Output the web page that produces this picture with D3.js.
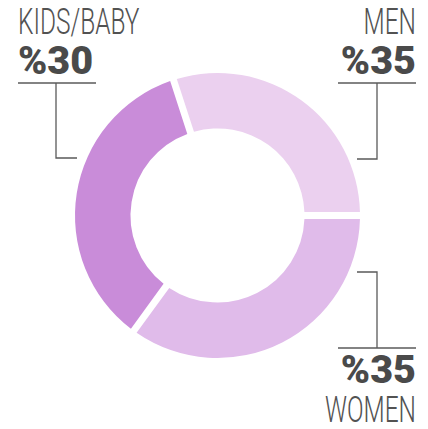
<!DOCTYPE html>
<html>
<head>
<meta charset="utf-8">
<script src="https://cdn.jsdelivr.net/npm/d3@7"></script>
<style>
  html, body { margin: 0; padding: 0; background: #fff; }
  svg { display: block; }
</style>
</head>
<body>
<div id="chart"></div>
<script>
// slice data (arc sizes as drawn) and the printed labels
const categories = ["MEN", "WOMEN", "KIDS/BABY"];
const sliceValues = [30, 35, 35];
const percentLabels = ["%35", "%35", "%30"];
const sliceColors = ["#ebd0ef", "#e0bbea", "#c98cd9"];

const width = 428, height = 429;
const cx = 217.5, cy = 215.5;
const outerR = 142.5, innerR = 87;
const gap = 7;
const startDeg = -18;

const svg = d3.select("#chart")
    .append("svg")
    .attr("width", width)
    .attr("height", height);

const pie = d3.pie()
    .sort(null)
    .value(d => d)
    .startAngle(startDeg * Math.PI / 180)
    .endAngle((startDeg + 360) * Math.PI / 180);

const arc = d3.arc()
    .innerRadius(innerR)
    .outerRadius(outerR)
    .padRadius(outerR)
    .padAngle(gap / outerR);

svg.append("g")
    .attr("transform", `translate(${cx},${cy})`)
    .selectAll("path")
    .data(pie(sliceValues))
    .enter()
    .append("path")
    .attr("d", arc)
    .attr("fill", (d, i) => sliceColors[i]);

/* labels + leader lines */
const lineColor = "#5a5a5a", textColor = "#525252";
const labels = [
    // name on top, percent below, rule under percent
    {i: 2, anchor: "start", x: 18, nameY: 34, pctY: 74, rule: [18, 96, 83],
     leader: [[56, 83], [56, 158], [77, 158]]},
    {i: 0, anchor: "end", x: 416, nameY: 34, pctY: 74, rule: [338, 416, 83],
     leader: [[377, 83], [377, 159], [357, 159]]},
    // percent first, name under it
    {i: 1, anchor: "end", x: 416, nameY: 422, pctY: 383, rule: [338, 416, 348],
     leader: [[377, 348], [377, 272], [357, 272]]}
];

const g = svg.append("g");
const lightScale = 0.68, boldScale = 1.04;

labels.forEach(l => {
    g.append("line")
        .attr("x1", l.rule[0]).attr("x2", l.rule[1])
        .attr("y1", l.rule[2]).attr("y2", l.rule[2])
        .attr("stroke", lineColor)
        .attr("stroke-width", 1.3);
    g.append("path")
        .attr("d", d3.line()(l.leader))
        .attr("fill", "none")
        .attr("stroke", lineColor)
        .attr("stroke-width", 1.3);

    g.append("text")
        .attr("transform", `translate(${l.x},${l.nameY}) scale(${lightScale},1)`)
        .attr("text-anchor", l.anchor)
        .attr("font-family", "Roboto, sans-serif")
        .attr("font-weight", 300)
        .attr("font-size", 36)
        .attr("fill", textColor)
        .text(categories[l.i]);

    g.append("text")
        .attr("transform", `translate(${l.x},${l.pctY}) scale(${boldScale},1)`)
        .attr("text-anchor", l.anchor)
        .attr("font-family", "Roboto, sans-serif")
        .attr("font-weight", 900)
        .attr("font-size", 38)
        .attr("fill", "#4a4a4a")
        .text(percentLabels[l.i]);
});
</script>
</body>
</html>
